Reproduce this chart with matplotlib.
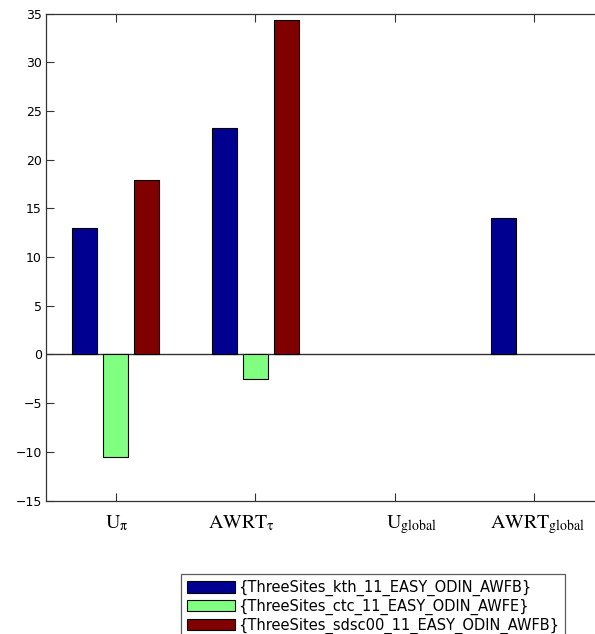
import numpy as np
import matplotlib
matplotlib.use("Agg")
import matplotlib.pyplot as plt

# metric values per experiment
metrics = [r"$\mathrm{U}_{\mathrm{π}}$", r"$\mathrm{AWRT}_{\mathrm{τ}}$",
           r"$\mathrm{U}_{\mathrm{global}}$", r"$\mathrm{AWRT}_{\mathrm{global}}$"]
kth_vals = [13.0, 23.3, 0.0, 14.0]
ctc_vals = [-10.5, -2.5, 0.0, 0.0]
sdsc_vals = [17.9, 34.4, 0.0, 0.0]
series_names = ["{ThreeSites_kth_11_EASY_ODIN_AWFB}",
                "{ThreeSites_ctc_11_EASY_ODIN_AWFE}",
                "{ThreeSites_sdsc00_11_EASY_ODIN_AWFB}"]
colors = ["#000090", "#80ff80", "#800000"]
yticks = [-15, -10, -5, 0, 5, 10, 15, 20, 25, 30, 35]

plt.rcParams["mathtext.fontset"] = "stix"
plt.rcParams["font.family"] = "DejaVu Sans"

W, H = 595, 634
fig = plt.figure(figsize=(W / 100, H / 100), dpi=100)
ax = fig.add_axes([46 / W, 1 - 500.5 / H, 558 / W, 486.7 / H])

x = np.arange(1, len(metrics) + 1)
step = 0.2222
width = 0.178
for i, (vals, name, c) in enumerate(zip([kth_vals, ctc_vals, sdsc_vals], series_names, colors)):
    # zero-height bars get no outline so they vanish into the baseline
    lws = [0.8 if v != 0 else 0 for v in vals]
    ax.bar(x + (i - 1) * step, vals, width, color=c, edgecolor="black",
           linewidth=lws, label=name, zorder=3)

ax.axhline(0, color="#333333", linewidth=1.0, zorder=2)

ax.set_xlim(0.5, 4.5)
ax.set_ylim(-15, 35)
ax.set_yticks(yticks)
ax.set_xticks(x)
ax.set_xticklabels([])

# category labels start a little left of their tick
shifts = [-10.3, -47.6, -9.0, -44.3]
for xi, lab, dx in zip(x, metrics, shifts):
    ax.annotate(lab, xy=(xi, 0), xycoords=ax.get_xaxis_transform(),
                xytext=(dx, -28), textcoords="offset pixels",
                ha="left", va="baseline", fontsize=14.3, annotation_clip=False)

ax.tick_params(axis="both", direction="in", length=5.5, width=0.8,
               color="#333333", top=True, right=True)
ax.tick_params(axis="y", labelsize=9, pad=3)
for s in ax.spines.values():
    s.set_color("#333333")
    s.set_linewidth(0.9)

leg = fig.legend(loc="upper left", bbox_to_anchor=(180.7 / W, 1 - 574.3 / H),
                 borderaxespad=0, fontsize=10.5, handlelength=3.3, handleheight=0.8,
                 handletextpad=0.25, labelspacing=0.18, borderpad=0.4,
                 fancybox=False, frameon=True)
leg.get_frame().set_edgecolor("#333333")
leg.get_frame().set_linewidth(0.9)

fig.savefig("out.png", dpi=100)
